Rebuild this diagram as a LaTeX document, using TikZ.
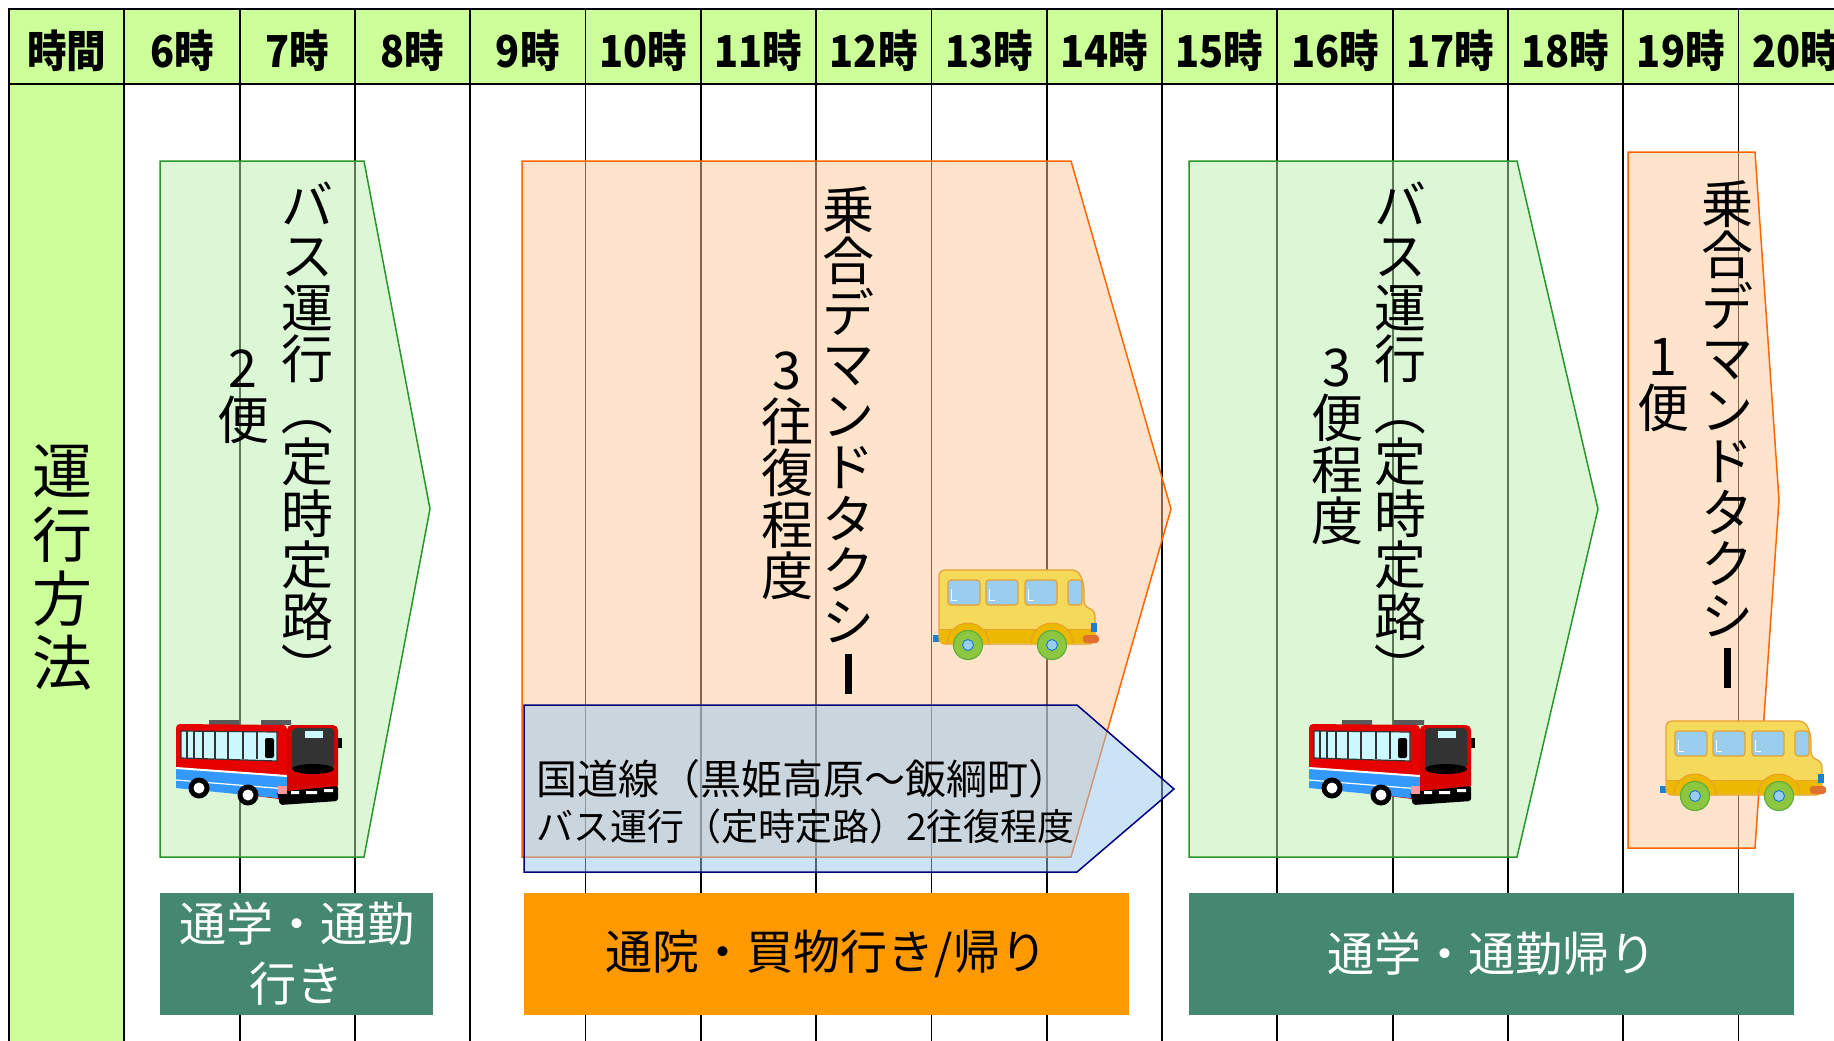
\documentclass[tikz,border=0pt]{standalone}
\usepackage{fontspec}
\newfontfamily\jp{Noto Sans CJK JP}
\newfontfamily\jpcond[FakeStretch=0.9]{Noto Sans CJK JP}
\newcommand{\vbar}{\rule[-1pt]{7pt}{40pt}}
\newcommand{\vopen}{\rotatebox[origin=c]{-90}{（}}
\newcommand{\vclose}{\rotatebox[origin=c]{-90}{）}}
\definecolor{hdrgreen}{RGB}{204,255,153}
\definecolor{busfill}{RGB}{185,241,175}
\definecolor{busline}{RGB}{40,150,40}
\definecolor{taxifill}{RGB}{255,201,153}
\definecolor{taxiline}{RGB}{255,102,0}
\definecolor{roadfill}{RGB}{153,201,241}
\definecolor{roadline}{RGB}{0,0,128}
\definecolor{tripgreen}{RGB}{69,136,114}
\definecolor{triporange}{RGB}{255,153,0}
% bus and van colours
\definecolor{busred}{RGB}{230,0,0}
\definecolor{busblue}{RGB}{51,153,255}
\definecolor{glass}{RGB}{204,248,255}
\definecolor{vanyellow}{RGB}{244,217,90}
\definecolor{vanband}{RGB}{236,184,0}
\definecolor{vanedge}{RGB}{232,160,48}
\definecolor{vanglass}{RGB}{153,206,238}
\definecolor{tyre}{RGB}{141,198,63}
\definecolor{tyreedge}{RGB}{95,175,63}
\definecolor{vanlamp}{RGB}{224,112,48}
\definecolor{vanblue}{RGB}{30,127,200}

\tikzset{
  redbus/.pic={
    \fill[black!65] (49,20) rectangle (79,25) (101,20) rectangle (131,25);
    \fill[busred,rounded corners=4pt] (16,86) -- (16,24) -- (127,25) -- (127,100) -- cycle;
    \fill[busblue] (16,68) -- (127,76) -- (127,99) -- (16,88) -- cycle;
    \draw[white,line width=2pt] (16,68) -- (127,76);
    \draw[white,line width=1.2pt] (16,80) -- (127,89);
    \fill[glass,draw=black!80,line width=1.2pt] (21,31) -- (117,32) -- (117,61) -- (21,58) -- cycle;
    \foreach \w in {27,34,43,55,68,83,97}
      \draw[black!80,line width=1.5pt] (\w,31) -- (\w,59);
    \fill[black,rounded corners=2pt] (105,38) rectangle (114,58);
    % front face
    \fill[red!85!black,rounded corners=5pt] (127,25) -- (178,25) -- (178,90) -- (127,103) -- cycle;
    \fill[black!80,rounded corners=4pt] (132,28) -- (174,28) -- (174,68) -- (132,72) -- cycle;
    \fill[black] (153,69) ellipse (21 and 5);
    \fill[glass] (145,31) rectangle (163,38);
    \fill[black] (178,38) rectangle (182,48);
    \fill[black,rounded corners=2pt] (117,92) -- (178,86) -- (178,101) -- (120,105) -- cycle;
    \fill[white] (131,91) rectangle (139,94) (146,91) rectangle (157,94) (164,89) rectangle (173,92);
    \fill[red!40] (118,86) rectangle (127,94);
    \foreach \cx/\cy in {39/88,88/95} {
      \fill[black] (\cx,\cy) circle (10.5);
      \fill[white] (\cx,\cy) circle (5.5);
    }
  },
  yellowbus/.pic={
    \fill[vanblue] (13,75) rectangle (19,82);
    \draw[fill=vanyellow,draw=vanedge,line width=1.2pt,rounded corners=6pt]
      (19,84) -- (19,10) -- (158,10) -- (164,24) -- (164,47) -- (175,50) -- (175,84) -- cycle;
    \fill[vanband] (20,69) rectangle (174,83);
    \draw[vanedge,line width=1pt] (19,69) -- (175,69);
    \foreach \a/\b in {28/60,66/98,105/137,148/162}
      \draw[fill=vanglass,draw=vanedge,line width=1.2pt,rounded corners=3pt] (\a,20) rectangle (\b,45);
    \foreach \a in {31,69,108}
      \draw[white,line width=1pt] (\a,29) -- (\a,40) -- ({\a+6},40);
    \foreach \w in {48,132} {
      \draw[fill=vanband,draw=vanedge,line width=1pt] ({\w-21},84) arc (180:360:21);
      \draw[fill=tyre,draw=tyreedge,line width=1.2pt] (\w,85) circle (14.5);
      \draw[fill=vanglass,draw=vanblue,line width=1pt] (\w,85) circle (5.5);
    }
    \fill[vanlamp,rounded corners=3pt] (163,75) rectangle (179,83);
    \fill[vanblue] (171,63) rectangle (177,72);
  }
}

\begin{document}
\begin{tikzpicture}[x=1pt,y=-1pt,
  grid/.style={line width=1.8pt},
  hdr/.style={font=\jpcond\bfseries\fontsize{44}{44}\selectfont,inner sep=0pt},
  vtxt/.style={font={\jp\fontsize{52}{51.5}\selectfont\lineskiplimit=-100pt},align=center,inner sep=0pt},
  busarrow/.style={fill=busfill,fill opacity=0.5,draw=busline,line width=1.5pt},
  taxiarrow/.style={fill=taxifill,fill opacity=0.5,draw=taxiline,line width=1.5pt},
  roadarrow/.style={fill=roadfill,fill opacity=0.5,draw=roadline,line width=1.5pt},
  roadtxt/.style={anchor=west,inner sep=0pt},
  tripbox/.style={inner sep=0pt,font=\jp\fontsize{47}{60}\selectfont,align=center,minimum height=122pt}]

  \useasboundingbox (0,0) rectangle (1834,1041);
  \clip (0,0) rectangle (1834,1041);
  \fill[white] (0,0) rectangle (1834,1041);

  % time header and row label
  \draw[grid,fill=hdrgreen] (9,9) rectangle (1850,84);
  \draw[grid,fill=hdrgreen] (9,84) rectangle (124,1050);
  \foreach \k in {1,...,15}
    \draw[grid] ({9+115.3*\k},9) -- ({9+115.3*\k},1050);
  \foreach \t [count=\i from 0] in {時間,6時,7時,8時,9時,10時,11時,12時,13時,14時,15時,16時,17時,18時,19時,20時}
    \node[hdr] (hour\i) at ({9+115.3*(\i+0.5)},51) {\t};
  \node[vtxt,font={\jp\fontsize{60}{64}\selectfont\lineskiplimit=-100pt}] (method) at (62,568) {運\\行\\方\\法};

  % service blocks
  \draw[busarrow] (160,161) -- (364,161) -- (430,509) -- (364,857) -- (160,857) -- cycle;
  \draw[taxiarrow] (522,161) -- (1071,161) -- (1171,509) -- (1071,857) -- (522,857) -- cycle;
  \draw[roadarrow] (524,705) -- (1077,705) -- (1174,789) -- (1077,872) -- (524,872) -- cycle;
  \draw[busarrow] (1189,161) -- (1517,161) -- (1598,509) -- (1517,857) -- (1189,857) -- cycle;
  \draw[taxiarrow] (1628,152) -- (1755,152) -- (1779,500) -- (1755,848) -- (1628,848) -- cycle;

  \node[vtxt] (busam) at (307,438) {バ\\ス\\運\\行\\\vopen\\定\\時\\定\\路\\\vclose};
  \node[vtxt] (busamn) at (243,397) {2\\便};
  \node[vtxt] (taxiday) at (848,440) {乗\\合\\デ\\マ\\ン\\ド\\タ\\ク\\シ\\\vbar};
  \node[vtxt] (taxidayn) at (787,476) {3\\往\\復\\程\\度};
  \node[vtxt] (buspm) at (1400,438) {バ\\ス\\運\\行\\\vopen\\定\\時\\定\\路\\\vclose};
  \node[vtxt] (buspmn) at (1337,447) {3\\便\\程\\度};
  \node[vtxt] (taxieve) at (1727,434) {乗\\合\\デ\\マ\\ン\\ド\\タ\\ク\\シ\\\vbar};
  \node[vtxt] (taxieven) at (1663,385) {1\\便};

  \node[roadtxt,font=\jp\fontsize{41}{41}\selectfont] (road1) at (536,779) {国道線（黒姫高原～飯綱町）};
  \node[roadtxt,font=\jp\fontsize{37}{37}\selectfont] (road2) at (536,826) {バス運行（定時定路）2往復程度};

  % vehicles
  \pic (bus1) at (160,700) {redbus};
  \pic (bus2) at (1293,700) {redbus};
  \pic (van1) at (920,560) {yellowbus};
  \pic (van2) at (1647,711) {yellowbus};

  % purpose of each trip
  \node[tripbox,fill=tripgreen,text=white,minimum width=273pt] (commute1) at (296.5,954) {通学・通勤\\行き};
  \node[tripbox,fill=triporange,minimum width=605pt] (errand) at (826.5,954) {通院・買物行き/帰り};
  \node[tripbox,fill=tripgreen,text=white,minimum width=605pt] (commute2) at (1491.5,954) {通学・通勤帰り};
\end{tikzpicture}
\end{document}
